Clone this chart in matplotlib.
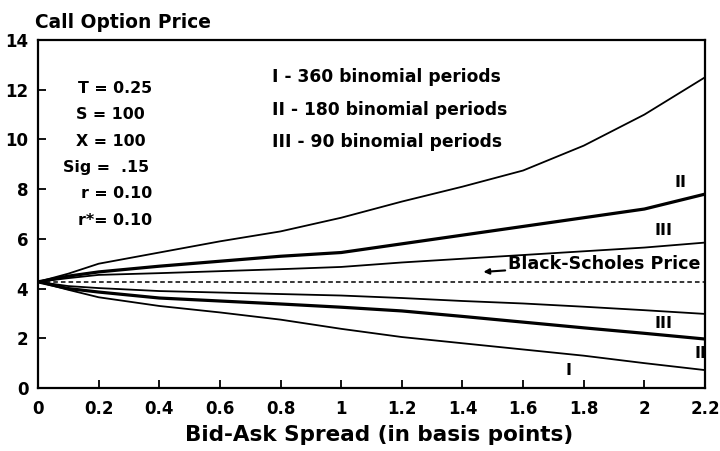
import matplotlib
matplotlib.use("Agg")
import matplotlib.pyplot as plt

# spread (basis points)
spread = [0, 0.1, 0.2, 0.4, 0.6, 0.8, 1.0, 1.2, 1.4, 1.6, 1.8, 2.0, 2.2]

# upper bounds
upper_I = [4.27, 4.6, 5.0, 5.45, 5.9, 6.3, 6.85, 7.5, 8.1, 8.75, 9.75, 11.0, 12.5]
upper_II = [4.27, 4.5, 4.67, 4.9, 5.1, 5.3, 5.45, 5.8, 6.15, 6.5, 6.85, 7.2, 7.8]
upper_III = [4.27, 4.42, 4.55, 4.62, 4.7, 4.78, 4.87, 5.05, 5.2, 5.35, 5.5, 5.65, 5.85]

# lower bounds
lower_III = [4.27, 4.1, 4.02, 3.9, 3.84, 3.78, 3.72, 3.62, 3.5, 3.4, 3.27, 3.13, 2.98]
lower_II = [4.27, 4.0, 3.86, 3.62, 3.5, 3.38, 3.25, 3.1, 2.88, 2.65, 2.42, 2.2, 1.97]
lower_I = [4.27, 3.95, 3.65, 3.3, 3.04, 2.75, 2.38, 2.05, 1.8, 1.55, 1.3, 1.0, 0.72]

bs_price = 4.27

params = ["T = 0.25", "S = 100", "X = 100", "Sig =  .15", "r = 0.10", "r*= 0.10"]
legend_lines = ["I - 360 binomial periods", "II - 180 binomial periods", "III - 90 binomial periods"]

plt.rcParams['font.family'] = ['DejaVu Sans']
plt.rcParams['font.weight'] = 'bold'

fig = plt.figure(figsize=(7.2, 4.51), dpi=100)
ax = fig.add_axes([0.0528, 0.1397, 0.9264, 0.7716])

ax.plot(spread, upper_I, color='black', lw=1.3)
ax.plot(spread, lower_I, color='black', lw=1.3)
ax.plot(spread, upper_II, color='black', lw=2.3)
ax.plot(spread, lower_II, color='black', lw=2.3)
ax.plot(spread, upper_III, color='black', lw=1.3)
ax.plot(spread, lower_III, color='black', lw=1.3)
ax.plot([spread[0], spread[-1]], [bs_price, bs_price], color='black', lw=1.1, ls=(0, (3, 2)))

ax.set_xlim(0, 2.2)
ax.set_ylim(0, 14)
ax.set_xticks([0, 0.2, 0.4, 0.6, 0.8, 1, 1.2, 1.4, 1.6, 1.8, 2, 2.2])
ax.set_xticklabels(['0', '0.2', '0.4', '0.6', '0.8', '1', '1.2', '1.4', '1.6', '1.8', '2', '2.2'])
ax.set_yticks(range(0, 15, 2))
ax.tick_params(direction='in', length=6, width=1.3, labelsize=12)
ax.tick_params(axis='x', pad=9)
ax.tick_params(axis='y', pad=7)
for s in ax.spines.values():
    s.set_linewidth(1.6)

fig.text(0.526, 0.036, 'Bid-Ask Spread (in basis points)', fontsize=15.5, fontweight='bold',
         ha='center', va='center')
fig.text(0.049, 0.951, 'Call Option Price', fontsize=13.4, fontweight='bold', va='center', ha='left')

# parameter block
param_x = [0.255, 0.24, 0.24, 0.225, 0.258, 0.255]
for i, t in enumerate(params):
    ax.text(param_x[i], 12.05 - i * 1.06, t, fontsize=11.4, fontweight='bold', ha='center', va='center')

for i, t in enumerate(legend_lines):
    ax.text(0.772, 12.5 - i * 1.3, t, fontsize=12.3, fontweight='bold', ha='left', va='center')

# curve labels
ax.text(2.119, 8.25, 'II', fontsize=11.5, fontweight='bold', ha='center', va='center')
ax.text(2.063, 6.35, 'III', fontsize=11.5, fontweight='bold', ha='center', va='center')
ax.text(2.063, 2.6, 'III', fontsize=11.5, fontweight='bold', ha='center', va='center')
ax.text(2.185, 1.4, 'II', fontsize=11.5, fontweight='bold', ha='center', va='center')
ax.text(1.75, 0.72, 'I', fontsize=11.5, fontweight='bold', ha='center', va='center')

ax.annotate('Black-Scholes Price', xy=(1.469, 4.67), xytext=(1.55, 5.0),
            fontsize=12.6, fontweight='bold', ha='left', va='center',
            arrowprops=dict(arrowstyle='-|>', color='black', lw=1.5, mutation_scale=8, shrinkA=0, shrinkB=0))

fig.savefig('out.png', dpi=100)
